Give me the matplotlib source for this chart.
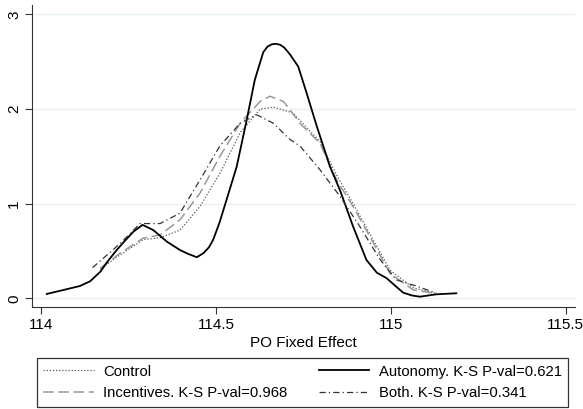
import matplotlib
matplotlib.use("Agg")
import matplotlib.pyplot as plt

plt.rcParams['font.family'] = ['Liberation Sans', 'DejaVu Sans']

# Data
ctrl_x = [114.169, 114.226, 114.292, 114.34, 114.397, 114.454, 114.511, 114.569, 114.626, 114.664,
          114.72, 114.76, 114.797, 114.845, 114.892, 114.94, 114.997, 115.064, 115.13]
ctrl_y = [0.31, 0.46, 0.62, 0.64, 0.72, 0.97, 1.32, 1.75, 2.0, 2.02,
          1.96, 1.80, 1.66, 1.30, 1.00, 0.68, 0.30, 0.11, 0.05]

inc_x = [114.169, 114.226, 114.292, 114.34, 114.397, 114.454, 114.511, 114.569, 114.626, 114.654,
         114.693, 114.711, 114.74, 114.797, 114.845, 114.892, 114.94, 114.997, 115.064, 115.13]
inc_y = [0.318, 0.477, 0.636, 0.67, 0.83, 1.11, 1.50, 1.85, 2.08, 2.136,
         2.08, 1.995, 1.85, 1.64, 1.25, 0.97, 0.65, 0.265, 0.088, 0.05]

aut_x = [114.016, 114.064, 114.111, 114.14, 114.169, 114.19, 114.216, 114.24, 114.264, 114.29,
         114.321, 114.359, 114.397, 114.42, 114.445, 114.464, 114.48, 114.492, 114.51, 114.53,
         114.559, 114.588, 114.611, 114.635, 114.647, 114.66, 114.671, 114.683, 114.695, 114.711,
         114.735, 114.759, 114.788, 114.826, 114.854, 114.892, 114.93, 114.96, 114.988, 115.01,
         115.035, 115.06, 115.083, 115.13, 115.187]
aut_y = [0.046, 0.088, 0.13, 0.18, 0.28, 0.39, 0.51, 0.61, 0.705, 0.776,
         0.72, 0.60, 0.51, 0.47, 0.434, 0.477, 0.54, 0.62, 0.80, 1.04,
         1.39, 1.89, 2.31, 2.6, 2.66, 2.685, 2.69, 2.68, 2.65, 2.58,
         2.45, 2.17, 1.82, 1.39, 1.147, 0.758, 0.406, 0.27, 0.212, 0.14,
         0.06, 0.03, 0.017, 0.042, 0.053]

both_x = [114.147, 114.226, 114.283, 114.34, 114.397, 114.454, 114.511, 114.569, 114.616, 114.664,
          114.711, 114.74, 114.797, 114.854, 114.911, 114.969, 115.016, 115.083, 115.13]
both_y = [0.324, 0.58, 0.79, 0.79, 0.90, 1.25, 1.61, 1.85, 1.94, 1.85,
          1.68, 1.61, 1.36, 1.08, 0.76, 0.41, 0.194, 0.117, 0.053]

labels = ["Control", "Incentives. K-S P-val=0.968", "Autonomy. K-S P-val=0.621", "Both. K-S P-val=0.341"]
xticks = [114, 114.5, 115, 115.5]
xtick_labels = ["114", "114.5", "115", "115.5"]
yticks = [0, 1, 2, 3]
xlabel = "PO Fixed Effect"

fig = plt.figure(figsize=(5.83, 4.09), dpi=100)
ax = fig.add_axes([0.055, 0.2494, 0.931, 0.7384])

styles = [
    dict(color="#555555", lw=0.9, linestyle=(0, (1, 1.5))),
    dict(color="#999999", lw=1.1, linestyle=(0, (7, 3))),
    dict(color="black", lw=1.3, linestyle="-"),
    dict(color="#333333", lw=0.9, linestyle=(0, (5, 2.5, 1, 2.5))),
]
series = [(ctrl_x, ctrl_y), (inc_x, inc_y), (aut_x, aut_y), (both_x, both_y)]
handles = []
for (xs, ys), st, lab in zip(series, styles, labels):
    ln, = ax.plot(xs, ys, label=lab, solid_joinstyle="round", **st)
    handles.append(ln)

ax.set_xlim(113.974, 115.526)
ax.set_ylim(-0.092, 3.1)
ax.set_xticks(xticks)
ax.set_xticklabels(xtick_labels)
ax.set_yticks(yticks)
ax.set_yticklabels([str(t) for t in yticks], rotation=90, va="center")
ax.grid(axis="y", color="#e6eff1", lw=1.0)
ax.set_axisbelow(True)
for s in ["top", "right"]:
    ax.spines[s].set_visible(False)
ax.spines["left"].set_color("#333333")
ax.spines["bottom"].set_color("#333333")
ax.tick_params(axis="both", labelsize=11, length=5, color="#333333", pad=3)
ax.set_xlabel(xlabel, fontsize=11, labelpad=3)

leg = fig.legend(handles=handles, labels=labels, ncol=2, loc="center",
                 bbox_to_anchor=(37 / 583, 2 / 409, 531 / 583, 49 / 409), mode="expand",
                 fontsize=10.7, frameon=True, fancybox=False, edgecolor="black",
                 handlelength=3.4, handletextpad=0.65, borderpad=0.42, labelspacing=0.52,
                 columnspacing=1.0, borderaxespad=0.0)
leg.get_frame().set_linewidth(0.9)

fig.savefig("out.png", dpi=100)
